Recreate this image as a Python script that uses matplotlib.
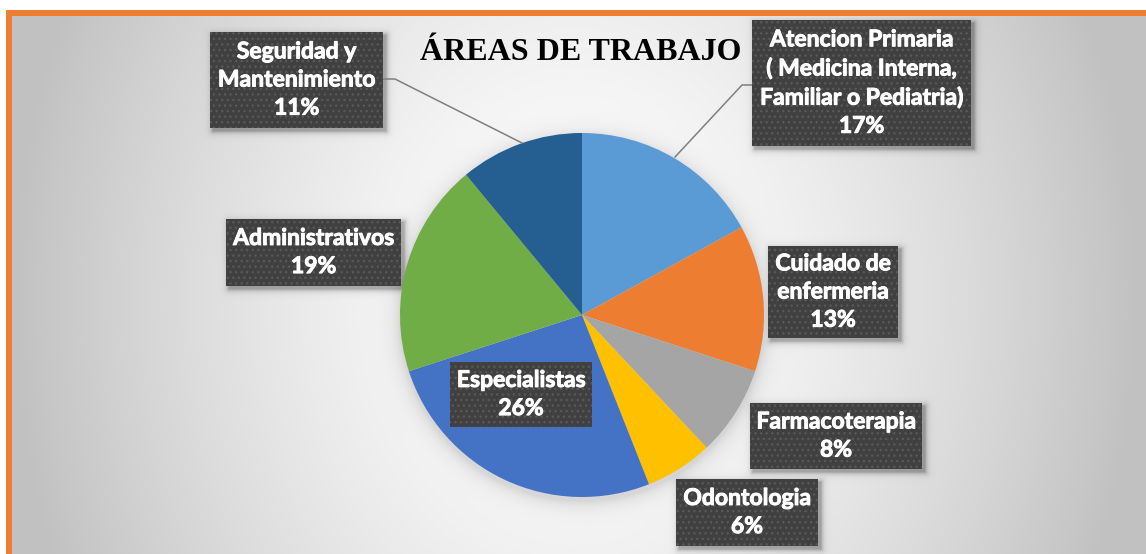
import numpy as np
import matplotlib
matplotlib.use('Agg')
import matplotlib.pyplot as plt
import matplotlib.patheffects as pe
from matplotlib.patches import Rectangle

# ---- data ----------------------------------------------------------------
areas = [
    "Atencion Primaria\n( Medicina Interna,\nFamiliar o Pediatria)",
    "Cuidado de\nenfermeria",
    "Farmacoterapia",
    "Odontologia",
    "Especialistas",
    "Administrativos",
    "Seguridad y\nMantenimiento",
]
porcentajes = [17, 13, 8, 6, 26, 19, 11]
colores = ["#5B9BD5", "#ED7D31", "#A5A5A5", "#FFC000", "#4472C4", "#70AD47", "#255E91"]
titulo = "ÁREAS DE TRABAJO"

# ---- layout (pixels, y down) ---------------------------------------------
W, H = 1146, 554
CX, CY, R = 582, 315, 182
# label boxes: x0, y0, x1, y1
cajas = [
    (752, 20, 971, 146),
    (768, 246, 898, 338),
    (750, 403, 922, 469),
    (676, 479, 818, 546),
    (450, 362, 592, 427),
    (226, 219, 401, 286),
    (210, 32, 383, 128),
]
guias = {
    0: [(752, 85), (742, 85), (675, 157)],
    6: [(383, 79), (395, 79), (522, 143)],
}

# ---- background (radial gradient + soft shadows) -------------------------
yy, xx = np.mgrid[0:H, 0:W] + 0.5
r = np.sqrt(((xx - 575) / 565) ** 2 + ((yy - 300) / 700) ** 2)
g = 255 - 62 * np.clip(r, 0, 1) ** 1.5
d = np.hypot(xx - CX, yy - (CY + 4))
g -= 30 * np.exp(-np.clip(d - R, 0, None) / 8)
for x0, y0, x1, y1 in cajas:
    dx = np.maximum.reduce([x0 + 3 - xx, np.zeros_like(xx), xx - (x1 + 3)])
    dy = np.maximum.reduce([y0 + 3 - yy, np.zeros_like(yy), yy - (y1 + 3)])
    g -= 70 * np.exp(-np.hypot(dx, dy) / 2.5)
g = np.clip(g, 0, 255) / 255
img = np.dstack([g, g, g])
img[(xx < 6) | (yy < 10)] = 1.0
orange = np.array([237, 125, 49]) / 255
img[(xx >= 6) & (xx < 12) & (yy >= 10)] = orange
img[(yy >= 10) & (yy < 16) & (xx >= 6)] = orange

fig = plt.figure(figsize=(W / 100, H / 100), dpi=100)
ax = fig.add_axes([0, 0, 1, 1])
ax.imshow(img, extent=(0, W, 0, H), origin='upper', interpolation='nearest', zorder=0)

ax.pie(porcentajes, colors=colores, startangle=90, counterclock=False,
       radius=R, center=(CX, H - CY), wedgeprops=dict(linewidth=0, zorder=2),
       frame=True)

for i, pts in guias.items():
    px = [p[0] for p in pts]
    py = [H - p[1] for p in pts]
    ax.plot(px, py, color='#7f7f7f', lw=1.1, zorder=3)

for (x0, y0, x1, y1), nombre, pct in zip(cajas, areas, porcentajes):
    ax.add_patch(Rectangle((x0, H - y1), x1 - x0, y1 - y0, facecolor='#404040',
                           edgecolor='#585858', lw=0, hatch='...', zorder=4))
    ax.text((x0 + x1) / 2, H - (y0 + y1) / 2, f"{nombre}\n{pct}%",
            ha='center', va='center', color='white', fontsize=16.5,
            fontweight='bold', family='Lato', linespacing=1.42, zorder=5,
            path_effects=[pe.withStroke(linewidth=0.7, foreground='white')])

ax.text(581, H - 52, titulo, ha='center', va='center', fontsize=23,
        fontweight='bold', family='Liberation Serif', color='black', zorder=5)

ax.set_xlim(0, W)
ax.set_ylim(0, H)
ax.set_aspect('auto')
ax.axis('off')

fig.savefig("out.png", dpi=100)
